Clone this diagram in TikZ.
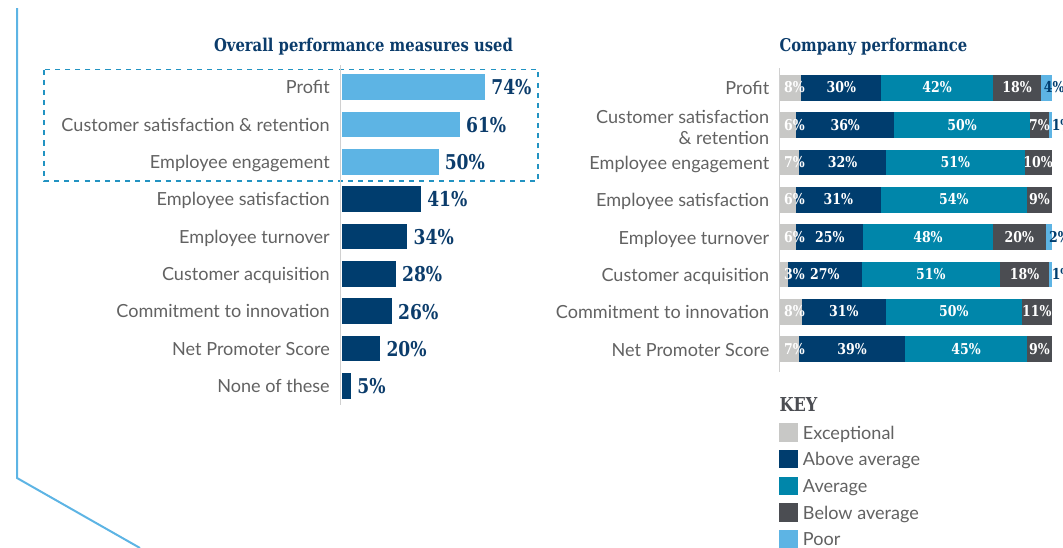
\documentclass[tikz,border=0pt]{standalone}
\usepackage{fontspec}
\setmainfont{Lato}
\newfontfamily\slabfont[FakeStretch=0.84]{DejaVu Serif}
\definecolor{cExc}{HTML}{C8C8C6}
\definecolor{cAbove}{HTML}{003D6E}
\definecolor{cAvg}{HTML}{0086AA}
\definecolor{cBelow}{HTML}{4B4D52}
\definecolor{cPoor}{HTML}{5DB4E4}
\definecolor{cLabel}{HTML}{626262}
\definecolor{cAxis}{HTML}{D0D0D0}
\definecolor{cDash}{HTML}{2293C2}
\definecolor{cTitle}{HTML}{0B3C6B}
\colorlet{c1}{cExc}
\colorlet{c2}{cAbove}
\colorlet{c3}{cAvg}
\colorlet{c4}{cBelow}
\colorlet{c5}{cPoor}
\begin{document}
\begin{tikzpicture}[x=0.75pt,y=-0.75pt,
  lbl/.style={font=\fontsize{13.55}{16}\selectfont, text=cLabel, inner sep=0pt, anchor=base east},
  val/.style={font=\slabfont\bfseries\fontsize{15.3}{18}\selectfont, text=cTitle, inner sep=0pt, anchor=base west},
  seglbl/.style={font=\slabfont\bfseries\fontsize{11.2}{12}\selectfont, text=white, inner sep=0pt, anchor=base},
  poorlbl/.style={font=\slabfont\bfseries\fontsize{11.2}{12}\selectfont, text=cAbove, inner sep=0pt, anchor=base west},
  ttl/.style={font=\slabfont\bfseries\fontsize{13.2}{16}\selectfont, text=cTitle, inner sep=0pt},
  keylbl/.style={font=\fontsize{13.55}{16}\selectfont, text=cLabel, inner sep=0pt, anchor=base west},
  axisline/.style={draw=cAxis, line width=1.1pt},
  boxline/.style={draw=cDash, line width=1.4pt, dash pattern=on 3.8pt off 3.8pt}]
\useasboundingbox (0,0) rectangle (1063,547);
% frame line
\draw[cPoor, line width=1.5pt] (17,8) -- (17,478) -- (140,548);
% titles
\node[ttl, anchor=base] (T1) at (363.5,51.5) {Overall performance measures used};
\node[ttl, anchor=base west] (T2) at (779.3,51.7) {Company performance};
% left chart
\draw[boxline] (44,69.5) rectangle (538.3,181);
\draw[axisline] (340.6,65) -- (340.6,405);
\foreach \i/\t/\v/\c in {0/Profit/74/cPoor,
  1/Customer satisfaction \& retention/61/cPoor,
  2/Employee engagement/50/cPoor,
  3/Employee satisfaction/41/cAbove,
  4/Employee turnover/34/cAbove,
  5/Customer acquisition/28/cAbove,
  6/Commitment to innovation/26/cAbove,
  7/Net Promoter Score/20/cAbove,
  8/None of these/5/cAbove}{
  \pgfmathsetmacro\yc{87.0+37.35*\i}
  \pgfmathsetmacro\xe{341.5+1.94*\v}
  \fill[\c] (341.5,\yc-12.85) rectangle (\xe,\yc+12.85);
  \node[lbl] (L\i) at (330,\yc+6.8) {\t};
  \node[val] (V\i) at (\xe+6,\yc+7.9) {\v\%};
}
% right chart
\draw[axisline] (779.3,68) -- (779.3,372);
\node[lbl] (R1a) at (769.5,123.3) {Customer satisfaction};
\node[lbl] (R1b) at (769.5,144) {\& retention};
\foreach \i/\t in {0/Profit, 2/Employee engagement, 3/Employee satisfaction,
  4/Employee turnover, 5/Customer acquisition, 6/Commitment to innovation,
  7/Net Promoter Score}{
  \pgfmathsetmacro\yc{87.8+37.35*\i}
  \node[lbl] (R\i) at (769.5,\yc+6.8) {\t};
}
\def\rowdata{0/{8,30,42,18,4}/102, 1/{6,36,50,7,1}/100,
  2/{7,32,51,10}/100, 3/{6,31,54,9}/100, 4/{6,25,48,20,2}/101,
  5/{3,27,51,18,1}/100, 6/{8,31,50,11}/100, 7/{7,39,45,9}/100}
% pass 1: segments
\foreach \r/\vals/\tot in \rowdata {
  \pgfmathsetmacro\yc{87.8+37.35*\r}
  \pgfmathsetmacro\sc{271.7/\tot}
  \xdef\cum{0}
  \foreach \v [count=\k] in \vals {
    \pgfmathsetmacro\xa{780+\sc*\cum}
    \pgfmathsetmacro\xb{780+\sc*(\cum+\v)}
    \fill[fill=c\k] (\xa,\yc-12.85) rectangle (\xb,\yc+12.85);
    \pgfmathsetmacro\newcum{\cum+\v}
    \xdef\cum{\newcum}
  }
}
% pass 2: segment labels
\foreach \r/\vals/\tot in \rowdata {
  \pgfmathsetmacro\yc{87.8+37.35*\r}
  \pgfmathsetmacro\sc{271.7/\tot}
  \xdef\cum{0}
  \foreach \v [count=\k] in \vals {
    \pgfmathsetmacro\xa{780+\sc*\cum}
    \pgfmathsetmacro\xb{780+\sc*(\cum+\v)}
    \ifnum\k=1
      \node[seglbl] (S\r-\k) at (794.5,\yc+5) {\v\%};
    \else\ifnum\k=5
      \node[poorlbl] (S\r-\k) at (\xa+2.5,\yc+5) {\v\%};
    \else
      \node[seglbl] (S\r-\k) at ({(\xa+\xb)/2},\yc+5) {\v\%};
    \fi\fi
    \pgfmathsetmacro\newcum{\cum+\v}
    \xdef\cum{\newcum}
  }
}
% key
\node[ttl, text=cBelow, anchor=base west, font=\slabfont\bfseries\fontsize{14.4}{16}\selectfont] (KEY) at (779.3,411) {KEY};
\foreach \k/\t in {1/Exceptional, 2/Above average, 3/Average, 4/Below average, 5/Poor}{
  \pgfmathsetmacro\yt{423.3+26.65*(\k-1)}
  \fill[fill=c\k] (779.3,\yt) rectangle (797.7,\yt+18.4);
  \node[keylbl] (K\k) at (802.7,\yt+9.2+6.8) {\t};
}
\end{tikzpicture}
\end{document}
